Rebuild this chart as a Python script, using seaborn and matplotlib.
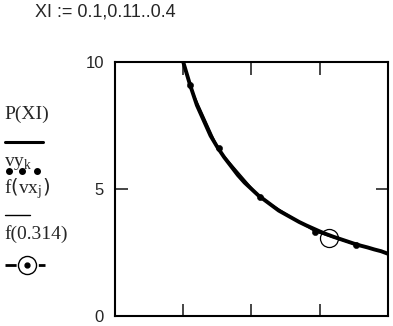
import matplotlib
matplotlib.use('Agg')
import matplotlib.pyplot as plt
import seaborn as sns
import pandas as pd

# curve P(XI)
xi = [0.10, 0.11, 0.12, 0.13, 0.14, 0.15, 0.16, 0.17, 0.18, 0.19, 0.20,
      0.21, 0.22, 0.23, 0.24, 0.25, 0.26, 0.27, 0.28, 0.29, 0.30,
      0.31, 0.32, 0.33, 0.34, 0.35, 0.36, 0.37, 0.38, 0.39, 0.40]
p_xi = [10.0, 9.1, 8.3, 7.7, 7.1, 6.65, 6.25, 5.9, 5.55, 5.25, 5.0,
        4.75, 4.55, 4.35, 4.15, 4.0, 3.85, 3.7, 3.57, 3.45, 3.33,
        3.22, 3.12, 3.03, 2.94, 2.85, 2.77, 2.7, 2.62, 2.55, 2.45]

# measured points vy_k and fitted f(vx_j)
vx = [0.11, 0.152, 0.212, 0.293, 0.353]
vy = [9.1, 6.6, 4.7, 3.3, 2.78]
f_vx = [9.05, 6.55, 4.68, 3.32, 2.8]

# single point f(0.314)
x0 = [0.314]
f_x0 = [3.07]

sns.set_style('white')
serif = ['Liberation Serif', 'DejaVu Serif']

fig = plt.figure(figsize=(3.93, 3.26), dpi=100)
ax = fig.add_axes([0.2926, 0.0307, 0.6946, 0.779])

curve = pd.DataFrame({'x': xi, 'y': p_xi})
pts = pd.DataFrame({'x': vx, 'y': vy, 'f': f_vx})

sns.lineplot(data=curve, x='x', y='y', color='black', linewidth=2.8, ax=ax)
sns.lineplot(data=pts, x='x', y='f', color='black', linewidth=1.0, ax=ax)
sns.scatterplot(data=pts, x='x', y='y', color='black', s=20, edgecolor='black', ax=ax, zorder=5)
ax.plot(x0, f_x0, marker='o', markersize=13, markerfacecolor='none',
        markeredgecolor='black', markeredgewidth=0.9, linestyle='none', zorder=6)

ax.set_xlim(0, 0.4)
ax.set_ylim(0, 10)
ax.set_xticks([0.1, 0.2, 0.3])
ax.set_xticklabels([])
ax.set_yticks([0, 5, 10])
ax.set_yticklabels(['0', '5', '10'], family=['Liberation Sans', 'DejaVu Sans'], fontsize=12)
ax.set_xlabel('')
ax.set_ylabel('')
ax.tick_params(axis='both', direction='in', length=9, width=1.2,
               top=True, right=True, bottom=True, left=True, pad=8)
for s in ax.spines.values():
    s.set_color('black')
    s.set_linewidth(1.5)

# title line
fig.text(0.09, 0.962, 'XI := 0.1,0.11..0.4', family=['Liberation Sans', 'DejaVu Sans'],
         fontsize=13, va='center', ha='left')

# Mathcad style trace labels on the left
H = 326.0
W = 393.0
def fy(py):
    return 1 - py / H

fs = 14
fig.text(4 / W, fy(114), 'P(XI)', family=serif, fontsize=fs, va='center')
fig.add_artist(plt.Line2D([5 / W, 43 / W], [fy(142), fy(142)], color='black', linewidth=2.2))
fig.text(4 / W, fy(164), r'vy$_\mathregular{k}$', family=serif, fontsize=fs, va='center')
fig.add_artist(plt.Line2D([9 / W, 22 / W, 37 / W], [fy(171)] * 3, color='black',
                          linestyle='none', marker='o', markersize=4))
fig.text(4 / W, fy(189), r'f$\left(\mathregular{vx_j}\right)$', family=serif, fontsize=fs, va='center')
fig.add_artist(plt.Line2D([5 / W, 30 / W], [fy(215), fy(215)], color='black', linewidth=1.0))
fig.text(4 / W, fy(234), 'f(0.314)', family=serif, fontsize=fs, va='center')
fig.add_artist(plt.Line2D([5 / W, 45 / W], [fy(265), fy(265)], color='black',
                          linewidth=2.0, dashes=(4, 2)))
fig.add_artist(plt.Line2D([27 / W], [fy(265)], color='black', marker='o', markersize=13,
                          markerfacecolor='white', markeredgecolor='black', linestyle='none'))
fig.add_artist(plt.Line2D([27 / W], [fy(265)], color='black', marker='o', markersize=3.5,
                          linestyle='none'))

fig.savefig('out.png', dpi=100)
